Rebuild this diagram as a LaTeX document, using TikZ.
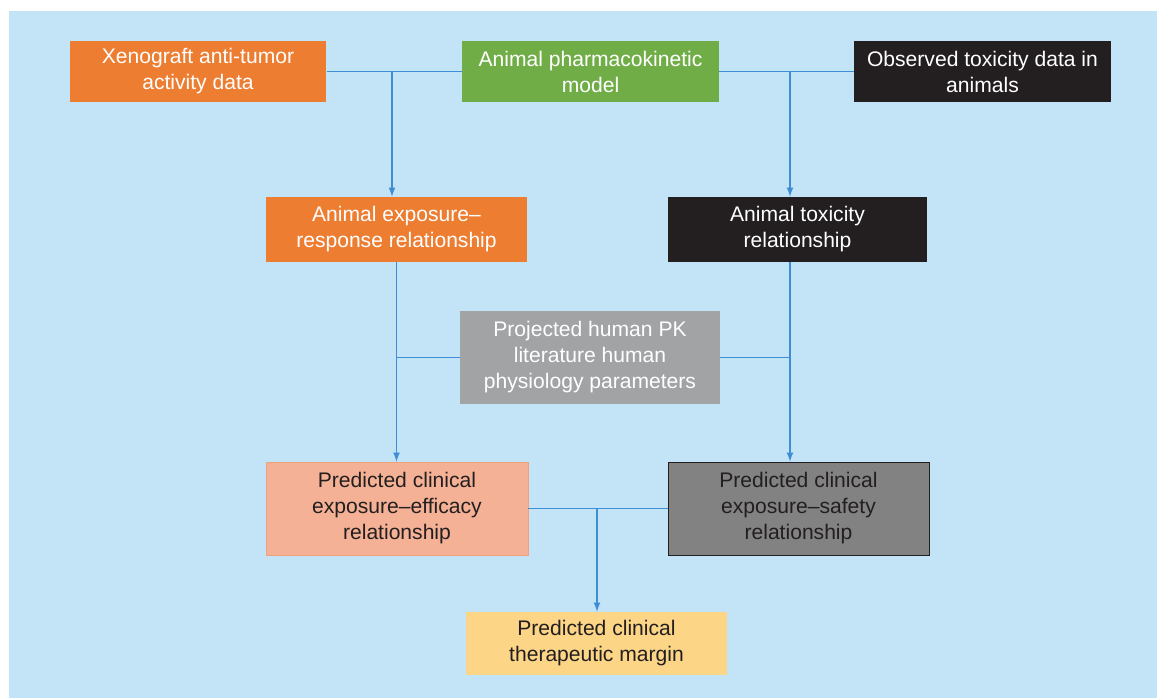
\documentclass[tikz,border=0pt]{standalone}
\usepackage{fontspec}
\setmainfont{Liberation Sans}
\usetikzlibrary{arrows, positioning}

\definecolor{bgblue}{HTML}{C2E4F6}
\definecolor{lineblue}{HTML}{3D8ED5}
\definecolor{boxorange}{HTML}{ED7D31}
\definecolor{boxgreen}{HTML}{70AD47}
\definecolor{boxblack}{HTML}{231F20}
\definecolor{boxgrey}{HTML}{A2A3A5}
\definecolor{boxsalmon}{HTML}{F5B195}
\definecolor{salmonedge}{HTML}{F0A27F}
\definecolor{boxdark}{HTML}{818281}
\definecolor{boxyellow}{HTML}{FDD586}
\definecolor{textdark}{HTML}{231F20}

\begin{document}
\begin{tikzpicture}[x=0.02cm,y=-0.02cm]
        \useasboundingbox (0,0) rectangle (1157,698);
        \fill[bgblue] (9,11) rectangle (1157,698);
        \begin{scope}[every node/.style={align=center,inner sep=0pt,font=\fontsize{12}{14.8}\selectfont}]
          \node[fill=boxorange,text=white,minimum width=5.14cm,minimum height=1.22cm] (xeno) at (198,71.5) {Xenograft anti-tumor\\activity data};
          \node[fill=boxgreen,text=white,minimum width=5.14cm,minimum height=1.22cm] (pk) at (590.5,71.5) {Animal pharmacokinetic\\model};
          \node[fill=boxblack,text=white,minimum width=5.14cm,minimum height=1.22cm] (toxdata) at (982.5,71.5) {Observed toxicity data in\\animals};
          \node[fill=boxorange,text=white,minimum width=5.22cm,minimum height=1.3cm] (expresp) at (396.5,229.5) {Animal exposure--\\response relationship};
          \node[fill=boxblack,text=white,minimum width=5.18cm,minimum height=1.3cm] (animtox) at (797.5,229.5) {Animal toxicity\\relationship};
          \node[fill=boxgrey,text=white,minimum width=5.2cm,minimum height=1.86cm] (proj) at (590,357.5) {Projected human PK\\literature human\\physiology parameters};
          \node[fill=boxsalmon,draw=salmonedge,text=textdark,minimum width=5.24cm,minimum height=1.86cm] (efficacy) at (397,508.5) {Predicted clinical\\exposure--efficacy\\relationship};
          \node[fill=boxdark,draw=boxblack,text=textdark,minimum width=5.22cm,minimum height=1.86cm] (safety) at (798.5,508.5) {Predicted clinical\\exposure--safety\\relationship};
          \node[fill=boxyellow,text=textdark,minimum width=5.22cm,minimum height=1.26cm] (margin) at (596.5,643.5) {Predicted clinical\\therapeutic margin};
        \end{scope}
        \coordinate (jl) at (392,71.5);
        \coordinate (jr) at (790,71.5);
        \coordinate (jb) at (597,508.5);
        \begin{scope}[every edge/.style={draw=lineblue,line width=0.8pt}]
          \path (xeno) edge (pk);
          \path (pk) edge (toxdata);
          \path (jl) edge[-latex] (jl |- expresp.north);
          \path (jr) edge[-latex] (jr |- animtox.north);
          \path (expresp.south) edge[-latex] (expresp.south |- efficacy.north);
          \path (proj) edge (proj.west -| expresp.south);
          \path (jr |- animtox.south) edge[-latex] (jr |- safety.north);
          \path (proj) edge (proj.east -| jr);
          \path (efficacy) edge (safety);
          \path (jb) edge[-latex] (jb |- margin.north);
        \end{scope}
      \end{tikzpicture}
\end{document}
